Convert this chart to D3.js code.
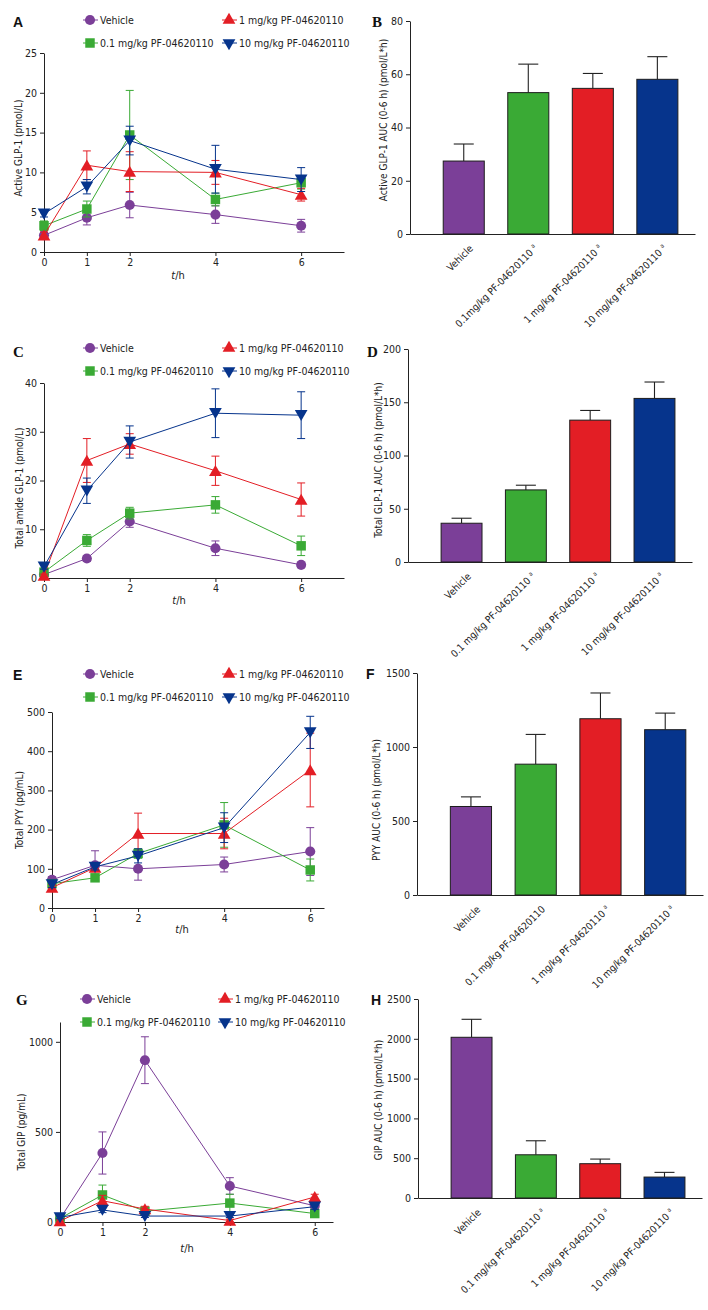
<!DOCTYPE html>
<html>
<head>
<meta charset="utf-8">
<script src="https://cdn.jsdelivr.net/npm/d3@7"></script>
<style>
  body { margin: 0; background: #fff; }
  svg { font-family: "DejaVu Sans Condensed", "Liberation Sans", sans-serif; }
  .tick text { fill: #222; }
</style>
</head>
<body>
<svg id="fig" width="708" height="1310"></svg>
<script>
// ---- data ----
const times = [0, 1, 2, 4, 6];
const groups = ['Vehicle', '0.1 mg/kg PF-04620110', '1 mg/kg PF-04620110', '10 mg/kg PF-04620110'];

// A: active GLP-1 (pmol/L), rows = groups, cols = times
const activeGlpMean = [
  [2.1, 4.3, 5.9, 4.7, 3.3],
  [3.3, 5.4, 14.7, 6.6, 8.7],
  [2.1, 10.9, 10.1, 10.0, 7.2],
  [4.8, 8.2, 14.0, 10.4, 9.1]
];
const activeGlpErr = [
  [0.4, 0.9, 1.6, 1.1, 0.8],
  [0.6, 1.0, 5.6, 0.8, 0.8],
  [0.4, 1.8, 2.5, 1.5, 0.8],
  [0.4, 0.9, 1.8, 3.0, 1.5]
];

// C: total amide GLP-1 (pmol/L)
const totalGlpMean = [
  [0.7, 4.0, 11.6, 6.1, 2.7],
  [1.2, 7.7, 13.3, 15.0, 6.6],
  [0.5, 24.1, 27.5, 22.0, 16.1],
  [2.3, 17.9, 27.9, 33.8, 33.4]
];
const totalGlpErr = [
  [0.3, 0.6, 1.2, 1.5, 0.5],
  [0.4, 1.2, 1.2, 1.7, 2.0],
  [0.3, 4.5, 2.1, 3.0, 3.4],
  [0.5, 2.6, 3.3, 5.0, 4.8]
];

// E: total PYY (pg/mL)
const pyyMean = [
  [72, 109, 100, 111, 144],
  [62, 77, 139, 212, 97],
  [52, 103, 190, 190, 352],
  [60, 105, 133, 205, 448]
];
const pyyErr = [
  [8, 37, 29, 19, 61],
  [8, 6, 12, 57, 28],
  [8, 8, 52, 39, 94],
  [8, 8, 18, 38, 41]
];

// G: total GIP (pg/mL)
const gipMean = [
  [18, 383, 898, 200, 90],
  [20, 150, 60, 105, 47],
  [5, 118, 72, 8, 139],
  [26, 67, 33, 33, 85]
];
const gipErr = [
  [10, 117, 130, 46, 15],
  [8, 55, 12, 49, 12],
  [8, 30, 15, 8, 15],
  [8, 15, 8, 8, 15]
];

// AUC bars (mean, SEM)
const activeAucMean = [27.4, 53.1, 54.7, 58.1];
const activeAucErr = [6.4, 10.7, 5.6, 8.5];
const totalAucMean = [36.4, 67.7, 133.2, 153.6];
const totalAucErr = [4.7, 4.4, 9.1, 15.4];
const pyyAucMean = [598, 884, 1191, 1117];
const pyyAucErr = [65, 201, 174, 112];
const gipAucMean = [2019, 543, 431, 263];
const gipAucErr = [226, 176, 58, 59];

// bar tick labels and superscripts
const barLabelsB = ['Vehicle', '0.1mg/kg PF-04620110', '1 mg/kg PF-04620110', '10 mg/kg PF-04620110'];
const barSupB = ['', 'a', 'a', 'a'];
const barSupD = ['', 'a', 'a', 'a'];
const barSupF = ['', '', 'a', 'a'];
const barSupH = ['', 'a', 'a', 'a'];

// tick values
const ticksA = [0, 5, 10, 15, 20, 25];
const ticksB = [0, 20, 40, 60, 80];
const ticksC = [0, 10, 20, 30, 40];
const ticksD = [0, 50, 100, 150, 200];
const ticksE = [0, 100, 200, 300, 400, 500];
const ticksF = [0, 500, 1000, 1500];
const ticksG = [0, 500, 1000];
const ticksH = [0, 500, 1000, 1500, 2000, 2500];

// ---- style ----
const colors = ['#7b3f98', '#3aaa35', '#e31e25', '#06348c'];
const symbols = [d3.symbolCircle, d3.symbolSquare, d3.symbolTriangle, d3.symbolTriangle];
const symSizes = [80, 90, 70, 70];
const axisColor = '#222';

const svg = d3.select('#fig');

function styleAxis(g) {
  g.selectAll('path, line').attr('stroke', axisColor).attr('stroke-width', 1);
  g.attr('font-family', null).attr('font-size', 10.5);
}

function marker(sel, i) {
  sel.attr('d', d3.symbol().type(symbols[i]).size(symSizes[i])())
    .attr('fill', colors[i]);
}

function linePanel(cfg) {
  const g = svg.append('g');
  const x = d3.scaleLinear().domain([0, cfg.xMax]).range([cfg.left, cfg.right]);
  const y = d3.scaleLinear().domain([0, cfg.yMax]).range([cfg.bottom, cfg.top]);

  g.append('g')
    .attr('transform', `translate(0,${cfg.bottom})`)
    .call(d3.axisBottom(x).tickValues(times).tickSize(4).tickSizeOuter(0).tickFormat(d3.format('d')))
    .call(styleAxis);

  g.append('g')
    .attr('transform', `translate(${cfg.left},0)`)
    .call(d3.axisLeft(y).tickValues(cfg.yTicks).tickSize(4).tickSizeOuter(0).tickFormat(d3.format('d')))
    .call(styleAxis);

  const line = d3.line().x((d, j) => x(times[j])).y(d => y(d));

  cfg.mean.forEach((series, i) => {
    const s = g.append('g');
    const err = cfg.err[i];
    // error bars
    series.forEach((m, j) => {
      const cx = x(times[j]);
      const y1 = y(Math.max(0, m - err[j])), y2 = y(m + err[j]);
      s.append('line').attr('x1', cx).attr('x2', cx).attr('y1', y1).attr('y2', y2)
        .attr('stroke', colors[i]).attr('stroke-width', 1);
      [y1, y2].forEach(yy => s.append('line')
        .attr('x1', cx - 4).attr('x2', cx + 4).attr('y1', yy).attr('y2', yy)
        .attr('stroke', colors[i]).attr('stroke-width', 1));
    });
    s.append('path').attr('d', line(series))
      .attr('fill', 'none').attr('stroke', colors[i]).attr('stroke-width', 1);
    s.selectAll('.pt').data(series).join('path')
      .attr('class', 'pt')
      .call(marker, i)
      .attr('transform', (d, j) => `translate(${x(times[j])},${y(d) + (i === 2 ? 1.5 : i === 3 ? -1.5 : 0)})${i === 3 ? ' rotate(180)' : ''}`);
  });

  // legend: left column Vehicle / 0.1, right column 1 / 10
  groups.forEach((name, i) => {
    const col = i >= 2 ? 1 : 0;
    const row = i % 2;
    const lx = cfg.legX[col];
    const ly = cfg.legY[row];
    const lg = g.append('g');
    lg.append('line').attr('x1', lx - 7).attr('x2', lx + 8).attr('y1', ly).attr('y2', ly)
      .attr('stroke', colors[i]).attr('stroke-width', 1);
    lg.append('path').call(marker, i)
      .attr('transform', `translate(${lx},${ly})${i === 3 ? ' rotate(180)' : ''}`);
    lg.append('text').attr('x', lx + 10).attr('y', ly).attr('dy', '0.35em')
      .attr('font-size', 10.5).attr('fill', '#222').text(name);
  });

  // axis titles
  g.append('text')
    .attr('transform', `translate(${cfg.yLab[0]},${cfg.yLab[1]}) rotate(-90)`)
    .attr('text-anchor', 'middle').attr('dy', '0.35em')
    .attr('font-size', 10).attr('fill', '#222').text(cfg.yTitle);

  const xt = g.append('text').attr('x', cfg.xLab[0]).attr('y', cfg.xLab[1])
    .attr('text-anchor', 'middle').attr('font-size', 11).attr('fill', '#222');
  xt.append('tspan').attr('font-style', 'italic').text('t');
  xt.append('tspan').text('/h');

  panelLetter(cfg.letter);
}

function barPanel(cfg) {
  const g = svg.append('g');
  const x = d3.scaleBand().domain(groups).range([cfg.left, cfg.right])
    .paddingInner(0.364).paddingOuter(0.39).align(0.66);
  const y = d3.scaleLinear().domain([0, cfg.yMax]).range([cfg.bottom, cfg.top]);

  g.append('g')
    .attr('transform', `translate(${cfg.left},0)`)
    .call(d3.axisLeft(y).tickValues(cfg.yTicks).tickSize(4).tickSizeOuter(0).tickFormat(d3.format('d')))
    .call(styleAxis);

  // error bars (upper only)
  groups.forEach((grp, i) => {
    const cx = x(grp) + x.bandwidth() / 2;
    const yt = y(cfg.mean[i]), ye = y(cfg.mean[i] + cfg.err[i]);
    g.append('line').attr('x1', cx).attr('x2', cx).attr('y1', yt).attr('y2', ye)
      .attr('stroke', axisColor).attr('stroke-width', 1.1);
    g.append('line').attr('x1', cx - 10).attr('x2', cx + 10).attr('y1', ye).attr('y2', ye)
      .attr('stroke', axisColor).attr('stroke-width', 1.1);
  });

  g.selectAll('.bar').data(cfg.mean).join('rect')
    .attr('class', 'bar')
    .attr('x', (d, i) => x(groups[i]))
    .attr('width', x.bandwidth())
    .attr('y', d => y(d))
    .attr('height', d => y(0) - y(d))
    .attr('fill', (d, i) => colors[i])
    .attr('stroke', '#1d1d1d').attr('stroke-width', 1);

  const xa = g.append('g')
    .attr('transform', `translate(0,${cfg.bottom})`)
    .call(d3.axisBottom(x).tickSize(0).tickSizeOuter(0).tickFormat(''))
    .call(styleAxis);
  xa.selectAll('.tick text').remove();

  const labels = cfg.labels || groups;
  groups.forEach((grp, i) => {
    const cx = x(grp) + x.bandwidth() / 2;
    const t = g.append('text')
      .attr('transform', `translate(${cx + 10},${cfg.bottom + 15}) rotate(-45)`)
      .attr('text-anchor', 'end').attr('font-size', 10).attr('fill', '#222');
    t.append('tspan').text(labels[i]);
    if (cfg.sup[i]) {
      t.append('tspan').attr('dx', 3).attr('dy', -4).attr('font-size', 6).text(cfg.sup[i]);
    }
  });

  g.append('text')
    .attr('transform', `translate(${cfg.yLab[0]},${cfg.yLab[1]}) rotate(-90)`)
    .attr('text-anchor', 'middle').attr('dy', '0.35em')
    .attr('font-size', 10).attr('fill', '#222').text(cfg.yTitle);

  panelLetter(cfg.letter);
}

function panelLetter(L) {
  svg.append('text').attr('x', L.x).attr('y', L.y)
    .attr('font-family', L.serif ? '"Liberation Serif", serif' : '"Liberation Sans", sans-serif')
    .attr('font-weight', 'bold').attr('font-size', L.serif ? 15 : 14)
    .attr('fill', '#111').text(L.t);
}

// ---- panels ----
linePanel({
  mean: activeGlpMean, err: activeGlpErr, yTicks: ticksA, yMax: 25, xMax: 7,
  left: 44, right: 344, top: 53, bottom: 252,
  legX: [90, 229], legY: [20, 43],
  yTitle: 'Active GLP-1 (pmol/L)', yLab: [18, 148], xLab: [178, 279],
  letter: { t: 'A', x: 13, y: 27 }
});
barPanel({
  mean: activeAucMean, err: activeAucErr, yTicks: ticksB, yMax: 80,
  left: 410, right: 695, top: 21, bottom: 234, labels: barLabelsB, sup: barSupB,
  yTitle: 'Active GLP-1 AUC (0-6 h) (pmol/L*h)', yLab: [383, 120],
  letter: { t: 'B', x: 372, y: 27, serif: true }
});
linePanel({
  mean: totalGlpMean, err: totalGlpErr, yTicks: ticksC, yMax: 40, xMax: 7,
  left: 44, right: 344, top: 383, bottom: 578,
  legX: [90, 229], legY: [348, 371],
  yTitle: 'Total amide GLP-1 (pmol/L)', yLab: [19, 488], xLab: [179, 604],
  letter: { t: 'C', x: 13, y: 357, serif: true }
});
barPanel({
  mean: totalAucMean, err: totalAucErr, yTicks: ticksD, yMax: 200,
  left: 408, right: 692, top: 349, bottom: 562, sup: barSupD,
  yTitle: 'Total GLP-1 AUC (0-6 h) (pmol/L*h)', yLab: [378, 460],
  letter: { t: 'D', x: 367, y: 357, serif: true }
});
linePanel({
  mean: pyyMean, err: pyyErr, yTicks: ticksE, yMax: 500, xMax: 6.32,
  left: 52, right: 324, top: 712, bottom: 908,
  legX: [90, 229], legY: [674, 697],
  yTitle: 'Total PYY (pg/mL)', yLab: [19, 810], xLab: [182, 933],
  letter: { t: 'E', x: 13, y: 680 }
});
barPanel({
  mean: pyyAucMean, err: pyyAucErr, yTicks: ticksF, yMax: 1500,
  left: 417, right: 703, top: 673, bottom: 895, sup: barSupF,
  yTitle: 'PYY AUC (0-6 h) (pmol/L*h)', yLab: [376, 800],
  letter: { t: 'F', x: 366, y: 679 }
});
linePanel({
  mean: gipMean, err: gipErr, yTicks: ticksG, yMax: 1110, xMax: 6.43,
  left: 60, right: 333, top: 1022, bottom: 1222,
  legX: [87, 225], legY: [999, 1022],
  yTitle: 'Total GIP (pg/mL)', yLab: [21, 1132], xLab: [187, 1252],
  letter: { t: 'G', x: 16, y: 1005, serif: true }
});
barPanel({
  mean: gipAucMean, err: gipAucErr, yTicks: ticksH, yMax: 2500,
  left: 418, right: 702, top: 999, bottom: 1198, sup: barSupH,
  yTitle: 'GIP AUC (0-6 h) (pmol/L*h)', yLab: [378, 1100],
  letter: { t: 'H', x: 371, y: 1005 }
});
</script>
</body>
</html>
